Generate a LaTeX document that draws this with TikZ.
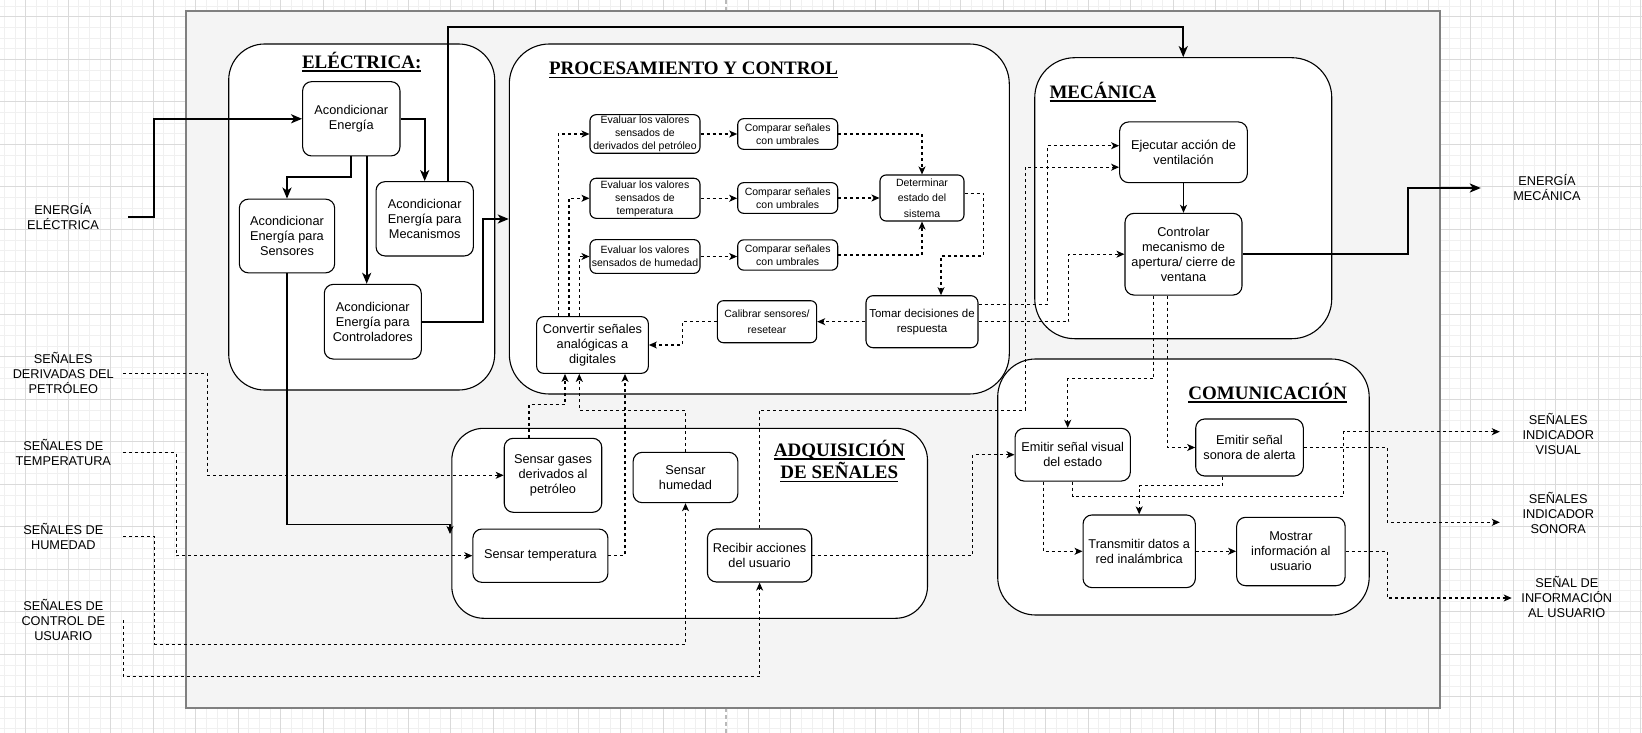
\documentclass[tikz,border=0pt]{standalone}
\usepackage{fontspec}
\setmainfont{Liberation Sans}
\newfontfamily\ttlfamily{Liberation Serif}
\usetikzlibrary{arrows.meta}
\definecolor{bgfill}{RGB}{244,244,244}
\definecolor{bgline}{RGB}{128,128,128}
\definecolor{gmajor}{RGB}{218,218,218}
\definecolor{gminor}{RGB}{240,240,240}
\newcommand\ttlul[1]{\setbox0\hbox{#1}\rlap{\rule[-3.5pt]{\wd0}{1.5pt}}\box0}
\tikzset{
  fnorm/.style={font=\fontsize{12.75}{15}\selectfont},
  fsmall/.style={font=\fontsize{10.5}{13}\selectfont},
  box/.style={draw=black, line width=1.1pt, fill=white, rounded corners=9pt, align=center, inner sep=1pt, fnorm},
  sbox/.style={box, rounded corners=6pt, fsmall},
  cont/.style={draw=black, line width=1.1pt, fill=white, inner sep=0pt},
  ttl/.style={font=\ttlfamily\bfseries\fontsize{19}{22.7}\selectfont, align=center, inner sep=0pt},
  lbl/.style={fnorm, align=center, inner sep=0pt},
  thk/.style={line width=2.2pt, -{Stealth[length=11pt,width=9pt,inset=3pt]}},
  sol/.style={line width=1.1pt, -{Stealth[length=8pt,width=7pt,inset=2.2pt]}},
  dsh/.style={line width=1.1pt, dash pattern=on 3pt off 3pt, -{Stealth[length=8pt,width=7pt,inset=2.2pt]}},
}
\begin{document}
\begin{tikzpicture}[x=1pt,y=-1pt]
\useasboundingbox (0,0) rectangle (1642,733);
\fill[white] (0,0) rectangle (1642,733);
% grid
\foreach \k in {-4,...,154} {
  \pgfmathsetmacro\gx{25.7+10.625*\k}
  \draw[gminor, line width=0.8pt] (\gx,0) -- (\gx,733);
}
\foreach \k in {-2,...,70} {
  \pgfmathsetmacro\gy{16.8+10.625*\k}
  \draw[gminor, line width=0.8pt] (0,\gy) -- (1642,\gy);
}
\foreach \k in {0,...,38} {
  \pgfmathsetmacro\gx{25.7+42.5*\k}
  \draw[gmajor, line width=0.9pt] (\gx,0) -- (\gx,733);
}
\foreach \k in {0,...,17} {
  \pgfmathsetmacro\gy{16.8+42.5*\k}
  \draw[gmajor, line width=0.9pt] (0,\gy) -- (1642,\gy);
}
\draw[gray!55, line width=1.2pt, dash pattern=on 4pt off 3pt] (726,0) -- (726,11);
\draw[gray!55, line width=1.2pt, dash pattern=on 4pt off 3pt] (726,708) -- (726,733);
% page
\draw[draw=bgline, line width=1.2pt, fill=bgfill] (186,11) rectangle (1440,708);

% containers
\node[cont, rounded corners=36pt, minimum width=266, minimum height=346] (elec) at (361.7,217) {};
\node[cont, rounded corners=40pt, minimum width=500, minimum height=350] (proc) at (759.3,219) {};
\node[cont, rounded corners=40pt, minimum width=297, minimum height=281] (mec) at (1183.25,198.2) {};
\node[cont, rounded corners=32pt, minimum width=475.7, minimum height=190] (adq) at (689.65,523.3) {};
\node[cont, rounded corners=38pt, minimum width=371.5, minimum height=256] (com) at (1183.45,487) {};

% titles
\node[ttl] (telec) at (361.7,62) {\ttlul{ELÉCTRICA:}};
\node[ttl] (tproc) at (693.5,70) {\ttlul{PROCESAMIENTO Y CONTROL}};
\node[ttl] (tmec) at (1102.8,92) {\ttlul{MECÁNICA}};
\node[ttl] (tadq) at (839.3,461) {\ttlul{ADQUISICIÓN}\\\ttlul{DE SEÑALES}};
\node[ttl] (tcom) at (1267.6,393) {\ttlul{COMUNICACIÓN}};

% electrica
\node[box, minimum width=97.3, minimum height=74.3] (ae) at (351.3,118.8) {Acondicionar\\Energía};
\node[box, minimum width=95.3, minimum height=73.7] (aes) at (287,236) {Acondicionar\\Energía para\\Sensores};
\node[box, minimum width=97.3, minimum height=74.3] (aem) at (424.7,218.8) {Acondicionar\\Energía para\\Mecanismos};
\node[box, minimum width=97, minimum height=74.7] (aec) at (372.8,321.7) {Acondicionar\\Energía para\\Controladores};

% procesamiento
\node[sbox, minimum width=110, minimum height=38.6] (ev1) at (645,134) {Evaluar los valores\\sensados de\\derivados del petróleo};
\node[sbox, minimum width=100, minimum height=30.7] (cp1) at (787.7,134) {Comparar señales\\con umbrales};
\node[sbox, minimum width=110, minimum height=40] (ev2) at (645,198.3) {Evaluar los valores\\sensados de\\temperatura};
\node[sbox, minimum width=100, minimum height=30.7] (cp2) at (787.7,198) {Comparar señales\\con umbrales};
\node[sbox, minimum width=110, minimum height=33.7] (ev3) at (645,256.5) {Evaluar los valores\\sensados de humedad};
\node[sbox, minimum width=100, minimum height=30.3] (cp3) at (787.7,255) {Comparar señales\\con umbrales};
\node[sbox, font=\fontsize{10.5}{15.5}\selectfont, minimum width=84, minimum height=46] (det) at (922,198) {Determinar\\estado del\\sistema};
\node[box, rounded corners=7pt, font=\fontsize{11.5}{15.3}\selectfont, minimum width=112, minimum height=52] (tom) at (922,321.7) {Tomar decisiones de\\respuesta};
\node[sbox, font=\fontsize{10.5}{15.3}\selectfont, minimum width=99.3, minimum height=42] (cal) at (767,321.7) {Calibrar sensores/\\resetear};
\node[box, rounded corners=7pt, minimum width=111.7, minimum height=56.7] (conv) at (592.5,345) {Convertir señales\\analógicas a\\digitales};

% adquisicion
\node[box, minimum width=97.5, minimum height=74] (sg) at (553,475.3) {Sensar gases\\derivados al\\petróleo};
\node[box, minimum width=135, minimum height=53.3] (st) at (540.4,555.7) {Sensar temperatura};
\node[box, minimum width=104.7, minimum height=50.3] (sh) at (685.5,477.5) {Sensar\\humedad};
\node[box, minimum width=104.3, minimum height=53] (ra) at (759.6,555.5) {Recibir acciones\\del usuario};

% mecanica
\node[box, minimum width=127.7, minimum height=60.7] (ej) at (1183.5,152.3) {Ejecutar acción de\\ventilación};
\node[box, minimum width=117, minimum height=81.7] (ctl) at (1183.5,254.2) {Controlar\\mecanismo de\\apertura/ cierre de\\ventana};

% comunicacion
\node[box, minimum width=115.3, minimum height=52.7] (evis) at (1072.7,454.7) {Emitir señal visual\\del estado};
\node[box, minimum width=107.6, minimum height=57] (eson) at (1249.5,447.5) {Emitir señal\\sonora de alerta};
\node[box, minimum width=112.3, minimum height=72.7] (tx) at (1139.2,551.3) {Transmitir datos a\\red inalámbrica};
\node[box, minimum width=108.5, minimum height=68.4] (mos) at (1290.9,551.5) {Mostrar\\información al\\usuario};

% outside labels
\node[lbl, minimum width=130] (lee) at (63,217) {ENERGÍA\\ELÉCTRICA};
\node[lbl, minimum width=119.4] (lpet) at (63.3,373.3) {SEÑALES\\DERIVADAS DEL\\PETRÓLEO};
\node[lbl, minimum width=119.4] (ltem) at (63.3,452.7) {SEÑALES DE\\TEMPERATURA};
\node[lbl, minimum width=119.4] (lhum) at (63.3,536.7) {SEÑALES DE\\HUMEDAD};
\node[lbl, minimum width=119.4] (lusr) at (63.3,620) {SEÑALES DE\\CONTROL DE\\USUARIO};
\node[lbl, minimum width=132] (lem) at (1547,188) {ENERGÍA\\MECÁNICA};
\node[lbl, minimum width=116.6] (lvis) at (1558.3,434) {SEÑALES\\INDICADOR\\VISUAL};
\node[lbl, minimum width=116.6] (lson) at (1558.3,513.3) {SEÑALES\\INDICADOR\\SONORA};
\node[lbl, minimum width=109.8] (linf) at (1566.8,597) {SEÑAL DE\\INFORMACIÓN\\AL USUARIO};

\coordinate (adqk) at (450,524.5);
\coordinate (adqin) at (450,534);

% thick energy connectors
\draw[thk] (lee.east) -- ++(26,0) |- (ae.west);
\draw[thk] (ae.south) -- ++(0,20.7) -| (aes.north);
\draw[thk] ([xshift=15.4pt]ae.south) -- ([xshift=-6.1pt]aec.north);
\draw[thk] (ae.east) -| (aem.north);
\draw[thk] ([xshift=23pt]aem.north) -- ++(0,-153.7) -| (mec.north);
\draw[thk] (aec.east) -- ++(61.4,0) |- (proc.west);
\draw[thk] (ctl.east) -- ++(165.5,0) |- (lem.west);

% thin solid
\draw[sol] (aes.south) |- (adqk) -- (adqin);
\draw[sol] (ej.south) -- (ctl.north);

% procesamiento dashed
\draw[dsh] (ev1.east) -- (ev1.east -| cp1.west);
\draw[dsh] (ev2.east) -- (ev2.east -| cp2.west);
\draw[dsh] (ev3.east) -- (ev3.east -| cp3.west);
\draw[dsh] (cp1.east) -| (det.north);
\draw[dsh] (cp2.east) -- (cp2.east -| det.west);
\draw[dsh] (cp3.east) -| (det.south);
\draw[dsh] ([yshift=4.7pt]det.east) -- ++(19,0) -- ++(0,62.7) -| ([xshift=19pt]tom.north);
\draw[dsh] (tom.west) -- (tom.west -| cal.east);
\draw[dsh] (cal.west) -- ++(-34.3,0) |- (conv.east);
\draw[dsh] ([xshift=-34.2pt]conv.north) |- (ev1.west);
\draw[dsh] ([xshift=-23.5pt]conv.north) |- (ev2.west);
\draw[dsh] ([xshift=-13.2pt]conv.north) |- (ev3.west);
\draw[dsh] ([yshift=17.4pt]tom.east) -- ++(69,0) |- ([yshift=6.6pt]ej.west);
\draw[dsh] (tom.east) -- ++(90,0) |- (ctl.west);

% adquisicion dashed
\draw[dsh] ([xshift=-24pt]sg.north) -- ++(0,-33.3) -| ([xshift=-27.5pt]conv.south);
\draw[dsh] (sh.north) -- ++(0,-41.3) -| ([xshift=-13.2pt]conv.south);
\draw[dsh] (st.east) -| ([xshift=32.5pt]conv.south);
\draw[dsh] (ra.north) -- ++(0,-118.3) -- ++(265.7,0) |- ([yshift=-14.9pt]ej.west);
\draw[dsh] (ra.east) -- ++(160.2,0) |- (evis.west);
\draw[dsh] (lpet.east) -- ++(84.6,0) |- (sg.west);
\draw[dsh] (ltem.east) -- ++(53,0) |- (st.west);
\draw[dsh] (lhum.east) -- ++(31.3,0) -- ++(0,107.6) -| (sh.south);
\draw[dsh] (lusr.east) -- ++(0,56.7) -| (ra.south);

% comunicacion dashed
\draw[dsh] ([xshift=-30.2pt]ctl.south) -- ++(0,83.3) -| ([xshift=-5pt]evis.north);
\draw[dsh] ([xshift=-15.8pt]ctl.south) |- (eson.west);
\draw[dsh] ([xshift=-29.4pt]evis.south) |- (tx.west);
\draw[dsh] (evis.south) -- ++(0,14.7) -- ++(271.2,0) |- ([yshift=2.3pt]lvis.west);
\draw[dsh] ([xshift=-26.8pt]eson.south) -- ++(0,9) -| (tx.north);
\draw[dsh] (eson.east) -- ++(83.2,0) |- ([yshift=-9pt]lson.west);
\draw[dsh] (tx.east) -- (tx.east -| mos.west);
\draw[dsh] (mos.east) -- ++(41.4,0) |- ([yshift=-1pt]linf.west);
\end{tikzpicture}
\end{document}
